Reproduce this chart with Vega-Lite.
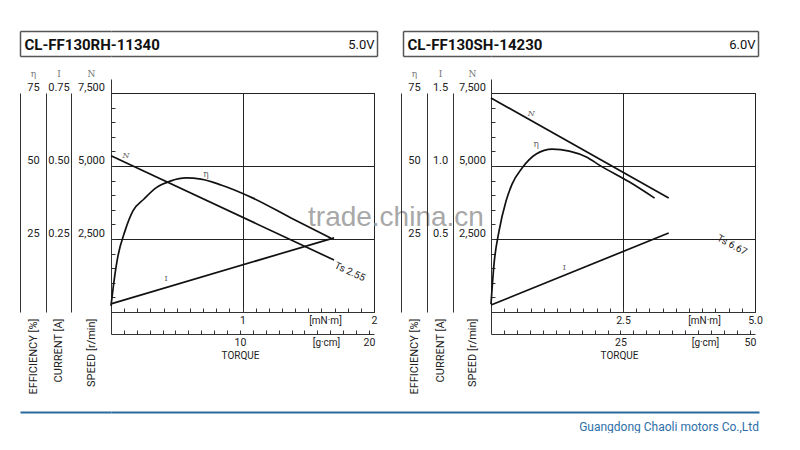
{
  "$schema": "https://vega.github.io/schema/vega-lite/v6.json",
  "background": "white",
  "padding": {"left": 19, "top": 30, "right": 0, "bottom": 0},
  "config": {
    "view": {"stroke": null},
    "font": "Roboto, sans-serif",
    "axis": {
      "grid": false,
      "domainColor": "#333",
      "domainWidth": 1,
      "tickColor": "#333",
      "tickWidth": 1,
      "labelColor": "#222",
      "labelFont": "Roboto, sans-serif",
      "labelFontSize": 11,
      "titleFont": "Roboto, sans-serif",
      "titleFontSize": 11,
      "titleFontWeight": "normal",
      "titleColor": "#222",
      "gridColor": "#222",
      "gridOpacity": 1,
      "gridWidth": 1
    }
  },
  "datasets": {
    "one": [{"k": 0}],
    "p1N": [{"t": 0, "v": 5350}, {"t": 1.696, "v": 1780}],
    "p1eta": [
      {"t": 0, "v": 2.1}, {"t": 0.023, "v": 10.6}, {"t": 0.053, "v": 19.2}, {"t": 0.106, "v": 27.7},
      {"t": 0.167, "v": 34.6}, {"t": 0.251, "v": 38.7}, {"t": 0.342, "v": 42.5}, {"t": 0.456, "v": 44.9},
      {"t": 0.57, "v": 45.9}, {"t": 0.684, "v": 45.5}, {"t": 0.837, "v": 43.5}, {"t": 1.08, "v": 39.0},
      {"t": 1.369, "v": 32.2}, {"t": 1.673, "v": 25.3}
    ],
    "p1I": [{"t": 0, "v": 0.028}, {"t": 1.696, "v": 0.254}],
    "p1NLab": [{"t": 0.114, "v": 5342, "txt": "N"}],
    "p1etaLab": [{"t": 0.722, "v": 47.3, "txt": "η"}],
    "p1ILab": [{"t": 0.418, "v": 0.113, "txt": "I"}],
    "p1Ts": [{"t": 1.696, "v": 1780, "txt": "Ts 2.55"}],
    "p1wm": [{"t": 2.167, "v": 3219, "txt": "trade.china.cn"}],
    "p2N": [{"t": 0, "v": 7329}, {"t": 3.365, "v": 3904}],
    "p2eta": [
      {"t": 0, "v": 2.7}, {"t": 0.057, "v": 16.4}, {"t": 0.152, "v": 27.7}, {"t": 0.285, "v": 38.0},
      {"t": 0.399, "v": 43.8}, {"t": 0.589, "v": 49.3}, {"t": 0.856, "v": 54.1}, {"t": 1.16, "v": 55.8},
      {"t": 1.483, "v": 55.1}, {"t": 1.806, "v": 53.1}, {"t": 2.053, "v": 50.3}, {"t": 2.624, "v": 44.5},
      {"t": 3.099, "v": 39.0}
    ],
    "p2I": [{"t": 0, "v": 0.048}, {"t": 3.365, "v": 0.541}],
    "p2NLab": [{"t": 0.76, "v": 6781, "txt": "N"}],
    "p2etaLab": [{"t": 0.856, "v": 57.5, "txt": "η"}],
    "p2ILab": [{"t": 1.388, "v": 0.301, "txt": "I"}],
    "p2Ts": [{"t": 4.26, "v": 2660, "txt": "Ts 6.67"}],
    "footer": [{"b": 1, "txt": "Guangdong Chaoli motors Co.,Ltd"}]
  },
  "spacing": 16,
  "vconcat": [
    {
      "spacing": -85,
      "hconcat": [
        {
          "spacing": 9,
          "vconcat": [
            {
              "width": 266, "height": 25,
              "data": {"name": "one"},
              "resolve": {"scale": {"x": "independent", "y": "independent"}, "axis": {"x": "independent", "y": "independent"}},
              "layer": [
                {"mark": {"type": "point", "opacity": 0},
                 "encoding": {
                   "x": {"datum": 0, "type": "quantitative", "scale": {"domain": [0, 1]},
                     "axis": {"orient": "top", "domain": true, "ticks": false, "labels": false, "title": null, "domainColor": "#555", "domainWidth": 1.5}},
                   "y": {"datum": 0, "type": "quantitative", "scale": {"domain": [0, 1]},
                     "axis": {"orient": "left", "offset": 91, "values": [0, 1], "domain": true, "domainColor": "#555", "domainWidth": 1.5,
                       "ticks": true, "tickSize": -91, "tickColor": "#555", "tickWidth": 1.5, "labels": false,
                       "title": "CL-FF130RH-11340", "titleAngle": 0, "titleX": 4, "titleY": 13, "titleAlign": "left", "titleBaseline": "middle",
                       "titleFontSize": 15, "titleFontWeight": "bold", "titleColor": "#111"}}
                 }},
                {"mark": {"type": "point", "opacity": 0},
                 "encoding": {
                   "x": {"datum": 0, "type": "quantitative", "scale": {"domain": [0, 1]},
                     "axis": {"orient": "bottom", "domain": true, "ticks": false, "labels": false, "title": null, "domainColor": "#555", "domainWidth": 1.5}},
                   "y": {"datum": 0, "type": "quantitative", "scale": {"domain": [0, 1]},
                     "axis": {"orient": "right", "domain": true, "domainColor": "#555", "domainWidth": 1.5, "ticks": false, "labels": false,
                       "title": "5.0V", "titleAngle": 0, "titleX": -3, "titleY": 13, "titleAlign": "right", "titleBaseline": "middle",
                       "titleFontSize": 13, "titleColor": "#111"}}
                 }}
              ]
            },
            {
              "width": 263, "height": 219,
              "view": {"stroke": "#222", "strokeWidth": 1},
              "data": {"name": "p1N"},
              "resolve": {"scale": {"x": "independent", "y": "independent"}, "axis": {"x": "independent", "y": "independent"}},
              "layer": [
                {
                  "data": {"name": "p1N"},
                  "encoding": {
                    "x": {"field": "t", "type": "quantitative", "scale": {"domain": [0, 2], "nice": false, "zero": false},
                      "axis": {"orient": "bottom", "values": [0.1,0.2,0.3,0.4,0.5,0.6,0.7,0.8,0.9,1,1.1,1.2,1.3,1.4,1.5,1.6,1.7,1.8,1.9], "tickSize": -4, "labels": false, "domain": true, "title": null}},
                    "y": {"field": "v", "type": "quantitative", "scale": {"domain": [0, 7500], "nice": false, "zero": false},
                      "axis": {"orient": "left", "values": [2500, 5000, 7500], "labelExpr": "format(datum.value, ',')", "ticks": false, "domain": true, "grid": true,
                        "labelAlign": "center", "labelBaseline": "bottom", "labelPadding": 20, "labelOffset": -1,
                        "title": "N", "titleAngle": 0, "titleX": -20, "titleY": -20, "titleAlign": "center", "titleBaseline": "middle",
                        "titleFont": "DejaVu Serif", "titleFontSize": 9, "titleColor": "#777"}}
                  },
                  "layer": [
                    {"mark": {"type": "line", "color": "#111", "strokeWidth": 1.7}},
                    {"data": {"name": "p1NLab"}, "mark": {"type": "text", "font": "DejaVu Serif", "fontStyle": "italic", "fontSize": 8, "color": "#666"}, "encoding": {"text": {"field": "txt"}}},
                    {"data": {"name": "p1Ts"}, "mark": {"type": "text", "angle": 25, "align": "left", "baseline": "middle", "dx": 3, "dy": 4, "fontSize": 10, "color": "#222"}, "encoding": {"text": {"field": "txt"}}},
                    {"data": {"name": "p1wm"}, "mark": {"type": "text", "align": "center", "baseline": "middle", "fontSize": 28, "font": "Liberation Sans, Arial, sans-serif", "color": "#a8a8a8"}, "encoding": {"text": {"field": "txt"}}}
                  ]
                },
                {
                  "data": {"name": "p1eta"},
                  "encoding": {
                    "x": {"field": "t", "type": "quantitative", "scale": {"domain": [0, 2], "nice": false, "zero": false},
                      "axis": {"orient": "bottom", "values": [1, 2], "ticks": false, "domain": false, "grid": true,
                        "labelExpr": "datum.value == 1 ? '1' : '2'", "labelPadding": 3, "labelFlush": false, "labelOverlap": false, "labelFontSize": 10.5,
                        "title": "[mN·m]", "titleX": 214, "titleY": 3, "titleAlign": "center", "titleBaseline": "top", "titleFontSize": 10}},
                    "y": {"field": "v", "type": "quantitative", "scale": {"domain": [0, 75], "nice": false, "zero": false},
                      "axis": {"orient": "left", "offset": 65, "values": [25, 50, 75], "ticks": false, "domain": true,
                        "labelAlign": "center", "labelBaseline": "bottom", "labelPadding": 13, "labelOffset": -1,
                        "title": "η", "titleAngle": 0, "titleX": -13, "titleY": -20, "titleAlign": "center", "titleBaseline": "middle",
                        "titleFont": "DejaVu Serif", "titleFontSize": 9, "titleColor": "#777"}}
                  },
                  "layer": [
                    {"mark": {"type": "line", "color": "#111", "strokeWidth": 1.7, "interpolate": "monotone"}},
                    {"data": {"name": "p1etaLab"}, "mark": {"type": "text", "font": "DejaVu Serif", "fontSize": 9, "color": "#666"}, "encoding": {"text": {"field": "txt"}}}
                  ]
                },
                {
                  "data": {"name": "p1I"},
                  "encoding": {
                    "x": {"field": "t", "type": "quantitative", "scale": {"domain": [0, 2], "nice": false, "zero": false},
                      "axis": {"orient": "top", "values": [-0.692, -0.494, -0.304, 0], "tickSize": 14, "domain": false, "labels": false, "title": null}},
                    "y": {"field": "v", "type": "quantitative", "scale": {"domain": [0, 0.75], "nice": false, "zero": false},
                      "axis": {"orient": "left", "offset": 40, "values": [0.25, 0.5, 0.75], "format": ".2f", "ticks": false, "domain": true,
                        "labelAlign": "center", "labelBaseline": "bottom", "labelPadding": 12.5, "labelOffset": -1,
                        "title": "I", "titleAngle": 0, "titleX": -12.5, "titleY": -20, "titleAlign": "center", "titleBaseline": "middle",
                        "titleFont": "DejaVu Serif", "titleFontSize": 9, "titleColor": "#777"}}
                  },
                  "layer": [
                    {"mark": {"type": "line", "color": "#111", "strokeWidth": 1.7}},
                    {"data": {"name": "p1ILab"}, "mark": {"type": "text", "font": "DejaVu Serif", "fontSize": 8, "color": "#666"}, "encoding": {"text": {"field": "txt"}}}
                  ]
                },
                {
                  "mark": {"type": "point", "opacity": 0},
                  "encoding": {
                    "x": {"datum": 0, "type": "quantitative", "scale": {"domain": [0, 20.394], "nice": false, "zero": false},
                      "axis": {"orient": "bottom", "offset": 22, "values": [0,1,2,3,4,5,6,7,8,9,10,11,12,13,14,15,16,17,18,19,20],
                        "tickSize": {"condition": {"test": "datum.value == 0", "value": -22}, "value": -4}, "labels": false, "domain": true, "title": null}},
                    "y": {"datum": 0, "type": "quantitative", "scale": {"domain": [0, 7500], "nice": false, "zero": false},
                      "axis": {"orient": "left", "values": [500,1000,1500,2000,2500,3000,3500,4000,4500,5000,5500,6000,6500,7000], "tickSize": -4, "labels": false, "domain": false,
                        "title": "SPEED [r/min]", "titleAngle": 270, "titleX": -20, "titleY": 225, "titleAlign": "right", "titleBaseline": "middle"}}
                  }
                },
                {
                  "mark": {"type": "point", "opacity": 0},
                  "encoding": {
                    "x": {"datum": 0, "type": "quantitative", "scale": {"domain": [0, 20.394], "nice": false, "zero": false},
                      "axis": {"orient": "bottom", "offset": 22, "values": [10, 20], "ticks": false, "domain": false, "labelPadding": 3, "labelFlush": false, "labelOverlap": false, "labelFontSize": 10.5,
                        "title": "[g·cm]", "titleX": 215, "titleY": 3, "titleAlign": "center", "titleBaseline": "top", "titleFontSize": 10}},
                    "y": {"datum": 0, "type": "quantitative", "scale": {"domain": [0, 75], "nice": false, "zero": false},
                      "axis": {"orient": "left", "offset": 91, "ticks": false, "labels": false, "domain": true,
                        "title": "EFFICIENCY [%]", "titleAngle": 270, "titleX": 13, "titleY": 225, "titleAlign": "right", "titleBaseline": "middle"}}
                  }
                },
                {
                  "mark": {"type": "point", "opacity": 0},
                  "encoding": {
                    "x": {"datum": 0, "type": "quantitative", "scale": {"domain": [0, 20.394], "nice": false, "zero": false},
                      "axis": {"orient": "bottom", "offset": 22, "ticks": false, "domain": false, "labels": false,
                        "title": "TORQUE", "titleX": 129, "titleY": 21, "titleAlign": "center", "titleBaseline": "middle", "titleFontSize": 10}},
                    "y": {"datum": 0, "type": "quantitative", "scale": {"domain": [0, 0.75], "nice": false, "zero": false},
                      "axis": {"orient": "left", "offset": 40, "ticks": false, "labels": false, "domain": false,
                        "title": "CURRENT [A]", "titleAngle": 270, "titleX": -13, "titleY": 225, "titleAlign": "right", "titleBaseline": "middle"}}
                  }
                }
              ]
            }
          ]
        },
        {
          "spacing": 9,
          "vconcat": [
            {
              "width": 267, "height": 25,
              "data": {"name": "one"},
              "resolve": {"scale": {"x": "independent", "y": "independent"}, "axis": {"x": "independent", "y": "independent"}},
              "layer": [
                {"mark": {"type": "point", "opacity": 0},
                 "encoding": {
                   "x": {"datum": 0, "type": "quantitative", "scale": {"domain": [0, 1]},
                     "axis": {"orient": "top", "domain": true, "ticks": false, "labels": false, "title": null, "domainColor": "#555", "domainWidth": 1.5}},
                   "y": {"datum": 0, "type": "quantitative", "scale": {"domain": [0, 1]},
                     "axis": {"orient": "left", "offset": 88, "values": [0, 1], "domain": true, "domainColor": "#555", "domainWidth": 1.5,
                       "ticks": true, "tickSize": -88, "tickColor": "#555", "tickWidth": 1.5, "labels": false,
                       "title": "CL-FF130SH-14230", "titleAngle": 0, "titleX": 4, "titleY": 13, "titleAlign": "left", "titleBaseline": "middle",
                       "titleFontSize": 15, "titleFontWeight": "bold", "titleColor": "#111"}}
                 }},
                {"mark": {"type": "point", "opacity": 0},
                 "encoding": {
                   "x": {"datum": 0, "type": "quantitative", "scale": {"domain": [0, 1]},
                     "axis": {"orient": "bottom", "domain": true, "ticks": false, "labels": false, "title": null, "domainColor": "#555", "domainWidth": 1.5}},
                   "y": {"datum": 0, "type": "quantitative", "scale": {"domain": [0, 1]},
                     "axis": {"orient": "right", "domain": true, "domainColor": "#555", "domainWidth": 1.5, "ticks": false, "labels": false,
                       "title": "6.0V", "titleAngle": 0, "titleX": -3, "titleY": 13, "titleAlign": "right", "titleBaseline": "middle",
                       "titleFontSize": 13, "titleColor": "#111"}}
                 }}
              ]
            },
            {
              "width": 264, "height": 219,
              "view": {"stroke": "#222", "strokeWidth": 1},
              "data": {"name": "p2N"},
              "resolve": {"scale": {"x": "independent", "y": "independent"}, "axis": {"x": "independent", "y": "independent"}},
              "layer": [
                {
                  "data": {"name": "p2N"},
                  "encoding": {
                    "x": {"field": "t", "type": "quantitative", "scale": {"domain": [0, 5], "nice": false, "zero": false},
                      "axis": {"orient": "bottom", "values": [0.25,0.5,0.75,1,1.25,1.5,1.75,2,2.25,2.5,2.75,3,3.25,3.5,3.75,4,4.25,4.5,4.75], "tickSize": -4, "labels": false, "domain": true, "title": null}},
                    "y": {"field": "v", "type": "quantitative", "scale": {"domain": [0, 7500], "nice": false, "zero": false},
                      "axis": {"orient": "left", "values": [2500, 5000, 7500], "labelExpr": "format(datum.value, ',')", "ticks": false, "domain": true, "grid": true,
                        "labelAlign": "center", "labelBaseline": "bottom", "labelPadding": 19, "labelOffset": -1,
                        "title": "N", "titleAngle": 0, "titleX": -19, "titleY": -20, "titleAlign": "center", "titleBaseline": "middle",
                        "titleFont": "DejaVu Serif", "titleFontSize": 9, "titleColor": "#777"}}
                  },
                  "layer": [
                    {"mark": {"type": "line", "color": "#111", "strokeWidth": 1.7}},
                    {"data": {"name": "p2NLab"}, "mark": {"type": "text", "font": "DejaVu Serif", "fontStyle": "italic", "fontSize": 8, "color": "#666"}, "encoding": {"text": {"field": "txt"}}},
                    {"data": {"name": "p2Ts"}, "mark": {"type": "text", "angle": 28, "align": "left", "baseline": "middle", "dx": 3, "dy": 2, "fontSize": 10, "color": "#222"}, "encoding": {"text": {"field": "txt"}}}
                  ]
                },
                {
                  "data": {"name": "p2eta"},
                  "encoding": {
                    "x": {"field": "t", "type": "quantitative", "scale": {"domain": [0, 5], "nice": false, "zero": false},
                      "axis": {"orient": "bottom", "values": [2.5, 5], "ticks": false, "domain": false, "grid": true,
                        "labelExpr": "datum.value == 5 ? '5.0' : '2.5'", "labelPadding": 3, "labelFlush": false, "labelOverlap": false, "labelFontSize": 10.5,
                        "title": "[mN·m]", "titleX": 213, "titleY": 3, "titleAlign": "center", "titleBaseline": "top", "titleFontSize": 10}},
                    "y": {"field": "v", "type": "quantitative", "scale": {"domain": [0, 75], "nice": false, "zero": false},
                      "axis": {"orient": "left", "offset": 64, "values": [25, 50, 75], "ticks": false, "domain": true,
                        "labelAlign": "center", "labelBaseline": "bottom", "labelPadding": 13, "labelOffset": -1,
                        "title": "η", "titleAngle": 0, "titleX": -13, "titleY": -20, "titleAlign": "center", "titleBaseline": "middle",
                        "titleFont": "DejaVu Serif", "titleFontSize": 9, "titleColor": "#777"}}
                  },
                  "layer": [
                    {"mark": {"type": "line", "color": "#111", "strokeWidth": 1.7, "interpolate": "monotone"}},
                    {"data": {"name": "p2etaLab"}, "mark": {"type": "text", "font": "DejaVu Serif", "fontSize": 9, "color": "#666"}, "encoding": {"text": {"field": "txt"}}}
                  ]
                },
                {
                  "data": {"name": "p2I"},
                  "encoding": {
                    "x": {"field": "t", "type": "quantitative", "scale": {"domain": [0, 5], "nice": false, "zero": false},
                      "axis": {"orient": "top", "values": [-1.705, -1.212, -0.72, 0], "tickSize": 14, "domain": false, "labels": false, "title": null}},
                    "y": {"field": "v", "type": "quantitative", "scale": {"domain": [0, 1.5], "nice": false, "zero": false},
                      "axis": {"orient": "left", "offset": 38, "values": [0.5, 1, 1.5], "format": ".1f", "ticks": false, "domain": true,
                        "labelAlign": "center", "labelBaseline": "bottom", "labelPadding": 13, "labelOffset": -1,
                        "title": "I", "titleAngle": 0, "titleX": -13, "titleY": -20, "titleAlign": "center", "titleBaseline": "middle",
                        "titleFont": "DejaVu Serif", "titleFontSize": 9, "titleColor": "#777"}}
                  },
                  "layer": [
                    {"mark": {"type": "line", "color": "#111", "strokeWidth": 1.7}},
                    {"data": {"name": "p2ILab"}, "mark": {"type": "text", "font": "DejaVu Serif", "fontSize": 8, "color": "#666"}, "encoding": {"text": {"field": "txt"}}}
                  ]
                },
                {
                  "mark": {"type": "point", "opacity": 0},
                  "encoding": {
                    "x": {"datum": 0, "type": "quantitative", "scale": {"domain": [0, 50.986], "nice": false, "zero": false},
                      "axis": {"orient": "bottom", "offset": 22, "values": [0,2.5,5,7.5,10,12.5,15,17.5,20,22.5,25,27.5,30,32.5,35,37.5,40,42.5,45,47.5,50],
                        "tickSize": {"condition": {"test": "datum.value == 0", "value": -22}, "value": -4}, "labels": false, "domain": true, "title": null}},
                    "y": {"datum": 0, "type": "quantitative", "scale": {"domain": [0, 7500], "nice": false, "zero": false},
                      "axis": {"orient": "left", "values": [500,1000,1500,2000,2500,3000,3500,4000,4500,5000,5500,6000,6500,7000], "tickSize": -4, "labels": false, "domain": false,
                        "title": "SPEED [r/min]", "titleAngle": 270, "titleX": -19, "titleY": 225, "titleAlign": "right", "titleBaseline": "middle"}}
                  }
                },
                {
                  "mark": {"type": "point", "opacity": 0},
                  "encoding": {
                    "x": {"datum": 0, "type": "quantitative", "scale": {"domain": [0, 50.986], "nice": false, "zero": false},
                      "axis": {"orient": "bottom", "offset": 22, "values": [25, 50], "ticks": false, "domain": false, "labelPadding": 3, "labelFlush": false, "labelOverlap": false, "labelFontSize": 10.5,
                        "title": "[g·cm]", "titleX": 214, "titleY": 3, "titleAlign": "center", "titleBaseline": "top", "titleFontSize": 10}},
                    "y": {"datum": 0, "type": "quantitative", "scale": {"domain": [0, 75], "nice": false, "zero": false},
                      "axis": {"orient": "left", "offset": 90, "ticks": false, "labels": false, "domain": true,
                        "title": "EFFICIENCY [%]", "titleAngle": 270, "titleX": 13, "titleY": 225, "titleAlign": "right", "titleBaseline": "middle"}}
                  }
                },
                {
                  "mark": {"type": "point", "opacity": 0},
                  "encoding": {
                    "x": {"datum": 0, "type": "quantitative", "scale": {"domain": [0, 50.986], "nice": false, "zero": false},
                      "axis": {"orient": "bottom", "offset": 22, "ticks": false, "domain": false, "labels": false,
                        "title": "TORQUE", "titleX": 128, "titleY": 21, "titleAlign": "center", "titleBaseline": "middle", "titleFontSize": 10}},
                    "y": {"datum": 0, "type": "quantitative", "scale": {"domain": [0, 1.5], "nice": false, "zero": false},
                      "axis": {"orient": "left", "offset": 38, "ticks": false, "labels": false, "domain": false,
                        "title": "CURRENT [A]", "titleAngle": 270, "titleX": -13, "titleY": 225, "titleAlign": "right", "titleBaseline": "middle"}}
                  }
                }
              ]
            }
          ]
        }
      ]
    },
    {
      "width": 648, "height": 15,
      "data": {"name": "footer"},
      "resolve": {"scale": {"x": "independent", "y": "independent"}, "axis": {"x": "independent", "y": "independent"}},
      "layer": [
        {"mark": {"type": "point", "opacity": 0},
         "encoding": {
           "x": {"datum": 0, "type": "quantitative", "scale": {"domain": [0, 1]},
             "axis": {"orient": "top", "domain": true, "domainColor": "#2a6a9e", "domainWidth": 2, "ticks": false, "labels": false, "title": null}},
           "y": {"datum": 0, "type": "quantitative", "scale": {"domain": [0, 1]},
             "axis": {"orient": "left", "offset": 91, "values": [1], "domain": false, "ticks": true, "tickSize": -91, "tickColor": "#2a6a9e", "tickWidth": 2, "labels": false, "title": null}}
         }},
        {"mark": {"type": "text", "align": "right", "baseline": "middle", "fontSize": 12, "color": "#2f6fa8"},
         "encoding": {"x": {"field": "b", "type": "quantitative", "scale": {"domain": [0, 1]}, "axis": null},
                      "y": {"datum": 0, "type": "quantitative", "scale": {"domain": [0, 1]}, "axis": null},
                      "text": {"field": "txt"}}}
      ]
    }
  ]
}
